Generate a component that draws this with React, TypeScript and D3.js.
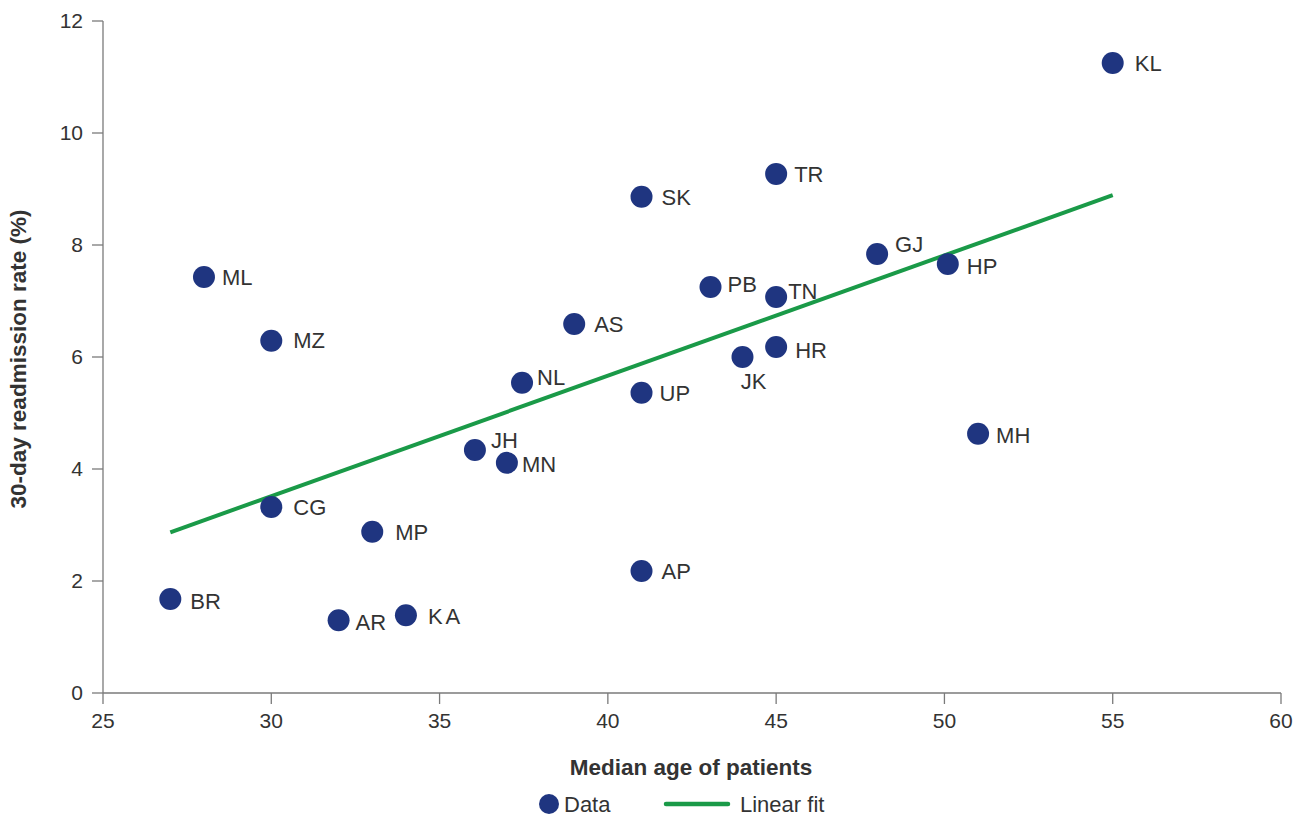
import React from "react";
import * as d3 from "d3";

const states = ["BR","ML","MZ","CG","AR","KA","MP","JH","MN","NL","AS","SK","UP","AP","PB","JK","TN","HR","TR","GJ","HP","MH","KL"];
const medianAge = [27,28,30,30,32,34,33,36.05,37,37.45,39,41,41,41,43.05,44,45,45,45,48,50.1,51,55];
const readmission = [1.68,7.43,6.29,3.32,1.3,1.39,2.88,4.34,4.11,5.54,6.59,8.86,5.36,2.18,7.25,6.0,7.07,6.18,9.27,7.84,7.66,4.63,11.25];
const fitX = [27,55];
const fitY = [2.87,8.89];
const xTicks = [25,30,35,40,45,50,55,60];
const yTicks = [0,2,4,6,8,10,12];

// label placement (layout only): dx, dy, anchor
const labelPos: Record<string, [number, number, string]> = {
  BR: [20, 2, "start"], ML: [18, 0, "start"], MZ: [22, 0, "start"], CG: [22, 0, "start"],
  AR: [17, 2, "start"], KA: [22, 1, "start"], MP: [23, 1, "start"], JH: [16, -10, "start"],
  MN: [15, 1, "start"], NL: [15, -5, "start"], AS: [20, 0, "start"], SK: [20, 0, "start"],
  UP: [18, 0, "start"], AP: [20, 0, "start"], PB: [17, -3, "start"], JK: [11, 24, "middle"],
  TN: [12, -6, "start"], HR: [19, 3, "start"], TR: [18, 0, "start"], GJ: [18, -10, "start"],
  HP: [19, 2, "start"], MH: [18, 2, "start"], KL: [22, 0, "start"],
};

const W = 1305, H = 816;
const left = 103, right = 1281, top = 21, bottom = 693;
const FONT = "'Liberation Sans', Arial, sans-serif";
const DOT = "#1f3580";
const GREEN = "#1a9a48";
const AXIS = "#7a7a7a";
const TXT = "#333333";

export default function App() {
  const x = d3.scaleLinear().domain([25, 60]).range([left, right]);
  const y = d3.scaleLinear().domain([0, 12]).range([bottom, top]);
  const line = d3.line<number>().x((_, i) => x(fitX[i])).y((d) => y(d));
  return (
    <svg width={W} height={H} style={{ position: "absolute", left: 0, top: 0 }} fontFamily={FONT}>
      <rect width={W} height={H} fill="#fff" />
      {/* y axis */}
      <line x1={left} x2={left} y1={top} y2={bottom} stroke={AXIS} strokeWidth={1.3} />
      {yTicks.map((t) => (
        <g key={"y" + t}>
          <line x1={left - 11} x2={left} y1={y(t)} y2={y(t)} stroke={AXIS} strokeWidth={1.3} />
          <text x={left - 20} y={y(t)} dy="0.35em" textAnchor="end" fontSize={21} fill={TXT}>{t}</text>
        </g>
      ))}
      {/* x axis */}
      <line x1={left} x2={right} y1={bottom} y2={bottom} stroke={AXIS} strokeWidth={1.3} />
      {xTicks.map((t) => (
        <g key={"x" + t}>
          <line x1={x(t)} x2={x(t)} y1={bottom} y2={bottom + 11} stroke={AXIS} strokeWidth={1.3} />
          <text x={x(t)} y={bottom + 35} textAnchor="middle" fontSize={21} fill={TXT}>{t}</text>
        </g>
      ))}
      <text x={691} y={775} textAnchor="middle" fontSize={22.5} fontWeight="bold" fill={TXT}>Median age of patients</text>
      <text transform={`translate(26,${(top + bottom) / 2 + 2}) rotate(-90)`} textAnchor="middle" fontSize={22.5} fontWeight="bold" fill={TXT}>30-day readmission rate (%)</text>
      {/* fit line */}
      <path d={line(fitY) || ""} fill="none" stroke={GREEN} strokeWidth={4} />
      {/* points */}
      {states.map((s, i) => (
        <circle key={s} cx={x(medianAge[i])} cy={y(readmission[i])} r={11} fill={DOT} />
      ))}
      {states.map((s, i) => {
        const [dx, dy, anchor] = labelPos[s];
        return (
          <text key={"l" + s} x={x(medianAge[i]) + dx} y={y(readmission[i]) + dy} dy="0.35em" textAnchor={anchor as any} fontSize={22} fill={TXT} letterSpacing={s === "KA" ? 3 : 0}>{s}</text>
        );
      })}
      {/* legend */}
      <circle cx={549} cy={804} r={10} fill={DOT} />
      <text x={564} y={804} dy="0.35em" fontSize={22} fill={TXT}>Data</text>
      <line x1={666} x2={728} y1={804} y2={804} stroke={GREEN} strokeWidth={4.5} strokeLinecap="round" />
      <text x={740} y={804} dy="0.35em" fontSize={22} fill={TXT}>Linear fit</text>
    </svg>
  );
}
